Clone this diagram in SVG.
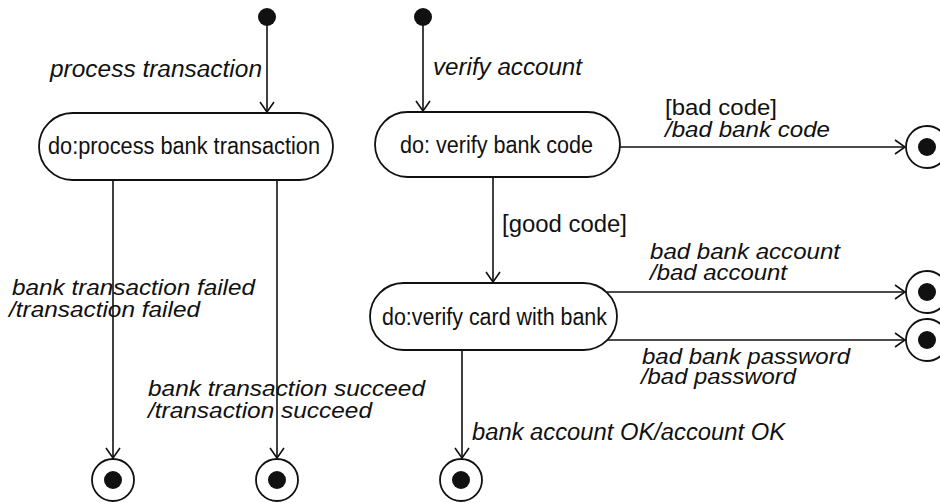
<svg xmlns="http://www.w3.org/2000/svg" width="940" height="503" viewBox="0 0 940 503">
<style>
.st{fill:#fff;stroke:#111;stroke-width:1.8}
.t{font-family:"Liberation Sans",Arial,sans-serif;font-size:23px;fill:#111}
.s{font-size:21.5px}
.i{font-style:italic}
.c{fill:none;stroke:#111;stroke-width:1.6}
.fo{fill:#fff;stroke:#111;stroke-width:1.8}
.fi{fill:#111}
</style>
<defs>
<marker id="arr" viewBox="0 0 12 16" refX="11" refY="8" markerWidth="12" markerHeight="16" markerUnits="userSpaceOnUse" orient="auto">
<path d="M1,1 L11,8 L1,15" fill="none" stroke="#111" stroke-width="1.6"/>
</marker>
</defs>
<rect width="940" height="503" fill="#fff"/>
<g id="connectors">
<line class="c" x1="267" y1="17" x2="267" y2="112" marker-end="url(#arr)"/>
<line class="c" x1="423" y1="17" x2="423" y2="111" marker-end="url(#arr)"/>
<line class="c" x1="113" y1="180" x2="113" y2="458" marker-end="url(#arr)"/>
<line class="c" x1="277" y1="178" x2="277" y2="458" marker-end="url(#arr)"/>
<line class="c" x1="620" y1="147" x2="905" y2="147" marker-end="url(#arr)"/>
<line class="c" x1="493" y1="177" x2="493" y2="282" marker-end="url(#arr)"/>
<line class="c" x1="607" y1="292" x2="905" y2="292" marker-end="url(#arr)"/>
<line class="c" x1="607" y1="340" x2="905" y2="340" marker-end="url(#arr)"/>
<line class="c" x1="462" y1="350" x2="462" y2="458" marker-end="url(#arr)"/>
<text class="t i" x="50" y="77" textLength="212" lengthAdjust="spacingAndGlyphs">process transaction</text>
<text class="t i" x="433" y="75" textLength="149" lengthAdjust="spacingAndGlyphs">verify account</text>
<text class="t s" x="665" y="115" textLength="112" lengthAdjust="spacingAndGlyphs">[bad code]</text>
<text class="t s i" x="665" y="137" textLength="165" lengthAdjust="spacingAndGlyphs">/bad bank code</text>
<text class="t" x="502" y="232" textLength="125" lengthAdjust="spacingAndGlyphs">[good code]</text>
<text class="t s i" x="650" y="259" textLength="190" lengthAdjust="spacingAndGlyphs">bad bank account</text>
<text class="t s i" x="650" y="280" textLength="137" lengthAdjust="spacingAndGlyphs">/bad account</text>
<text class="t s i" x="642" y="364" textLength="208" lengthAdjust="spacingAndGlyphs">bad bank password</text>
<text class="t s i" x="641" y="384" textLength="155" lengthAdjust="spacingAndGlyphs">/bad password</text>
<text class="t i" x="472" y="440" textLength="313" lengthAdjust="spacingAndGlyphs">bank account OK/account OK</text>
<text class="t s i" x="12" y="295" textLength="243" lengthAdjust="spacingAndGlyphs">bank transaction failed</text>
<text class="t s i" x="9" y="317" textLength="191" lengthAdjust="spacingAndGlyphs">/transaction failed</text>
<text class="t s i" x="148" y="396" textLength="277" lengthAdjust="spacingAndGlyphs">bank transaction succeed</text>
<text class="t s i" x="148" y="418" textLength="224" lengthAdjust="spacingAndGlyphs">/transaction succeed</text>
</g>
<g id="init1"><circle class="fi" cx="267" cy="17" r="9"/></g>
<g id="init2"><circle class="fi" cx="423" cy="17" r="9"/></g>
<g id="processBankTransaction">
<rect class="st" x="39" y="113" width="294" height="67" rx="33.5" ry="33.5"/>
<text class="t" x="48" y="154" textLength="272" lengthAdjust="spacingAndGlyphs">do:process bank transaction</text>
</g>
<g id="verifyBankCode">
<rect class="st" x="375" y="112" width="245" height="65" rx="32.5" ry="32.5"/>
<text class="t" x="400" y="153" textLength="193" lengthAdjust="spacingAndGlyphs">do: verify bank code</text>
</g>
<g id="verifyCardWithBank">
<rect class="st" x="370" y="283" width="247" height="67" rx="33.5" ry="33.5"/>
<text class="t" x="382" y="325" textLength="225" lengthAdjust="spacingAndGlyphs">do:verify card with bank</text>
</g>
<g id="final1"><circle class="fo" cx="113" cy="480" r="21"/><circle class="fi" cx="113" cy="480" r="9"/></g>
<g id="final2"><circle class="fo" cx="277" cy="480" r="21"/><circle class="fi" cx="277" cy="480" r="9"/></g>
<g id="final3"><circle class="fo" cx="461" cy="480" r="21"/><circle class="fi" cx="461" cy="480" r="9"/></g>
<g id="final4"><circle class="fo" cx="927" cy="147" r="21"/><circle class="fi" cx="927" cy="147" r="9"/></g>
<g id="final5"><circle class="fo" cx="927" cy="292" r="21"/><circle class="fi" cx="927" cy="292" r="9"/></g>
<g id="final6"><circle class="fo" cx="927" cy="340" r="21"/><circle class="fi" cx="927" cy="340" r="9"/></g>
</svg>
